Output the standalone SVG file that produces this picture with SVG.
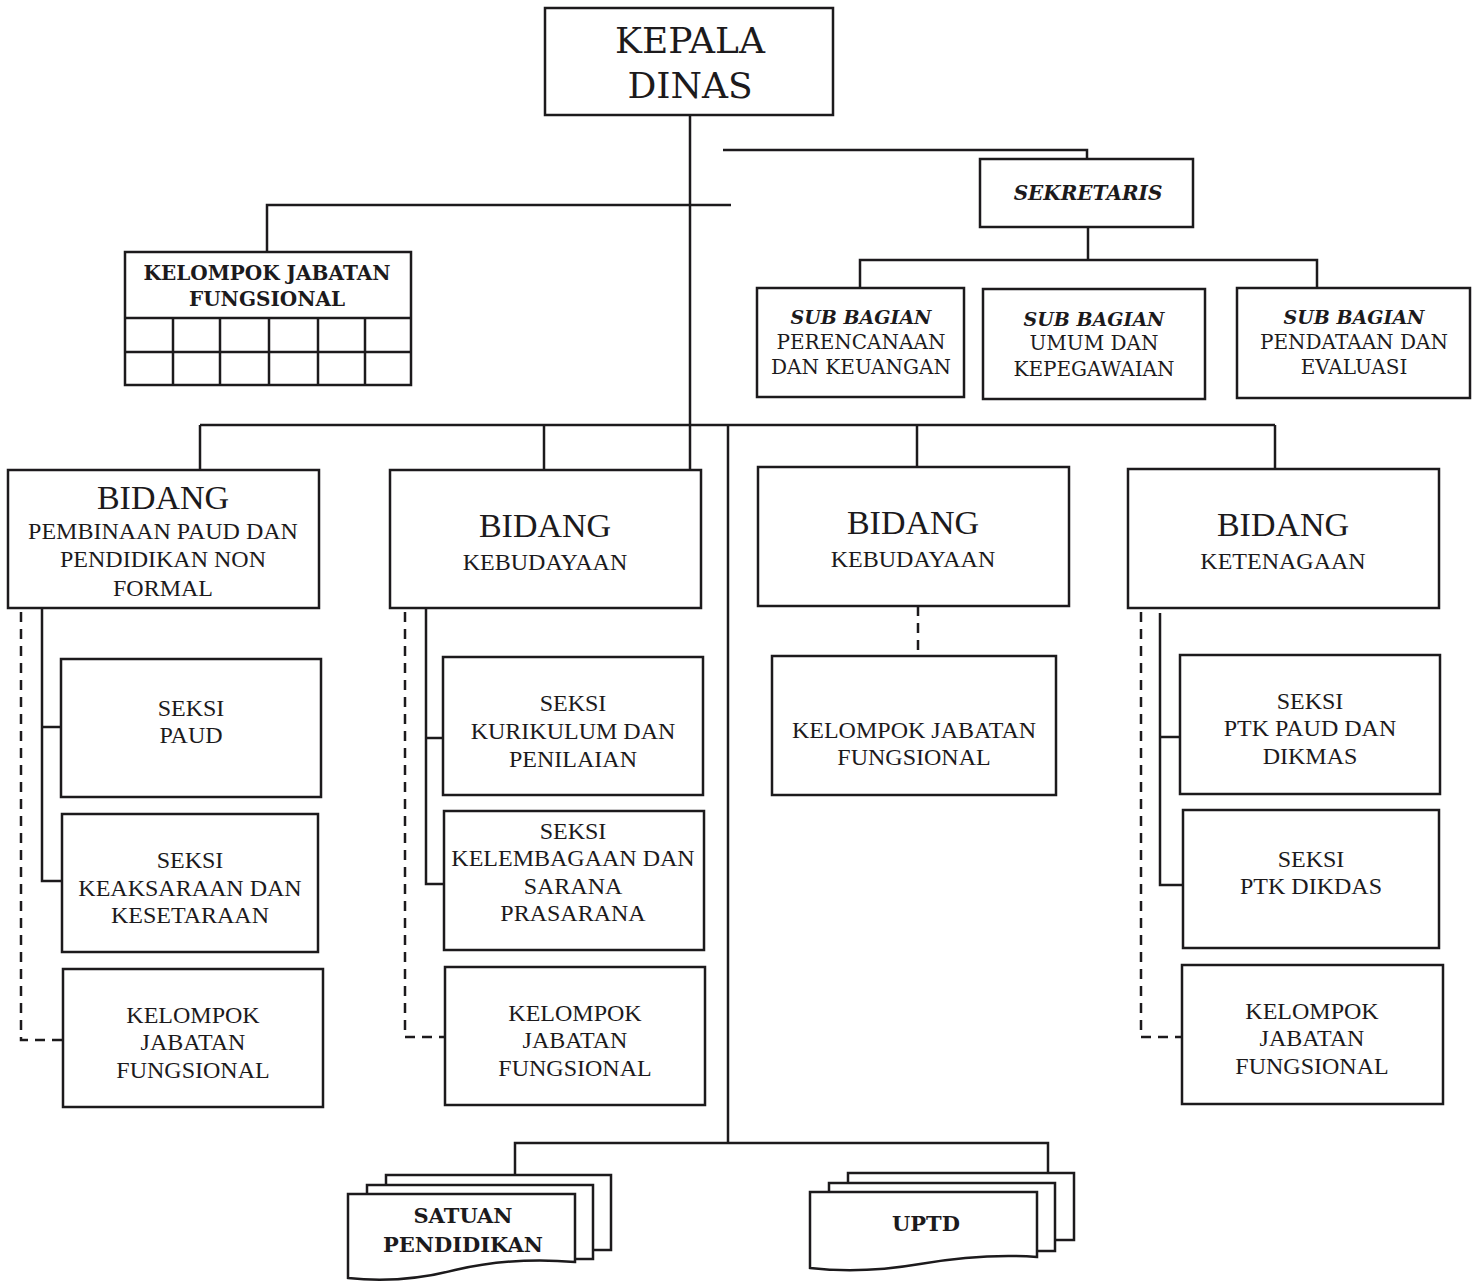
<svg xmlns="http://www.w3.org/2000/svg" width="1478" height="1282" viewBox="0 0 1478 1282">
<style>
.box{fill:#fff;stroke:#1c1a1c;stroke-width:2.5}
.ln{fill:none;stroke:#1c1a1c;stroke-width:2.5}
.dash{fill:none;stroke:#1c1a1c;stroke-width:2.5;stroke-dasharray:10 7}
text{fill:#1c1a1c;text-anchor:middle}
.cs{font-family:"DejaVu Serif","Liberation Serif",serif}
.tm{font-family:"Liberation Serif","Times New Roman",serif}
.big{font-size:36px}
.bi{font-weight:bold;font-style:italic;font-size:19px}
.sk{font-weight:bold;font-style:italic;font-size:20px}
.sb{font-size:20px}
.bd{font-weight:bold;font-size:20px}
.bid{font-size:34px}
.t{font-size:24px}
.bb{font-weight:bold;font-size:21px}
</style>
<rect width="1478" height="1282" fill="#fff"/>
<g id="connectors">
<line class="ln" x1="690" y1="115" x2="690" y2="470"/>
<polyline class="ln" points="723,150 1087,150 1087,160"/>
<polyline class="ln" points="731,205 267,205 267,252"/>
<line class="ln" x1="1088" y1="227" x2="1088" y2="260"/>
<polyline class="ln" points="860,288 860,260 1317,260 1317,288"/>
<line class="ln" x1="200" y1="425" x2="1275" y2="425"/>
<line class="ln" x1="200" y1="425" x2="200" y2="470"/>
<line class="ln" x1="544" y1="425" x2="544" y2="470"/>
<line class="ln" x1="917" y1="425" x2="917" y2="467"/>
<line class="ln" x1="1275" y1="425" x2="1275" y2="469"/>
<line class="ln" x1="728" y1="425" x2="728" y2="1142"/>
<polyline class="ln" points="515,1175 515,1143 1048,1143 1048,1173"/>
<polyline class="ln" points="42,608 42,881 62,881"/>
<line class="ln" x1="42" y1="727" x2="61" y2="727"/>
<polyline class="dash" points="21,612 21,1040 63,1040"/>
<polyline class="ln" points="426,608 426,884 444,884"/>
<line class="ln" x1="426" y1="738" x2="443" y2="738"/>
<polyline class="dash" points="405,612 405,1037 445,1037"/>
<line class="dash" x1="918" y1="606" x2="918" y2="656"/>
<polyline class="ln" points="1160,613 1160,885 1183,885"/>
<line class="ln" x1="1160" y1="737" x2="1180" y2="737"/>
<polyline class="dash" points="1141,612 1141,1037 1182,1037"/>
</g>
<g id="kepala-dinas">
<rect class="box" x="545" y="8" width="288" height="107"/>
<text class="cs big" x="690" y="53">KEPALA</text>
<text class="cs big" x="690" y="98">DINAS</text>
</g>
<g id="sekretaris">
<rect class="box" x="980" y="159" width="213" height="68"/>
<text class="cs sk" x="1088" y="200">SEKRETARIS</text>
</g>
<g id="subbag-perencanaan">
<rect class="box" x="757" y="288" width="207" height="109"/>
<text class="cs bi" x="861" y="324">SUB BAGIAN</text>
<text class="cs sb" x="861" y="349">PERENCANAAN</text>
<text class="cs sb" x="861" y="374">DAN KEUANGAN</text>
</g>
<g id="subbag-umum">
<rect class="box" x="983" y="289" width="222" height="110"/>
<text class="cs bi" x="1094" y="326">SUB BAGIAN</text>
<text class="cs sb" x="1094" y="350">UMUM DAN</text>
<text class="cs sb" x="1094" y="376">KEPEGAWAIAN</text>
</g>
<g id="subbag-pendataan">
<rect class="box" x="1237" y="288" width="233" height="110"/>
<text class="cs bi" x="1354" y="324">SUB BAGIAN</text>
<text class="cs sb" x="1354" y="349">PENDATAAN DAN</text>
<text class="cs sb" x="1354" y="374">EVALUASI</text>
</g>
<g id="kelompok-jabatan-fungsional-top">
<rect class="box" x="125" y="252" width="286" height="133"/>
<line class="ln" x1="125" y1="318" x2="411" y2="318"/>
<line class="ln" x1="125" y1="352" x2="411" y2="352"/>
<line class="ln" x1="173" y1="318" x2="173" y2="385"/>
<line class="ln" x1="220" y1="318" x2="220" y2="385"/>
<line class="ln" x1="269" y1="318" x2="269" y2="385"/>
<line class="ln" x1="318" y1="318" x2="318" y2="385"/>
<line class="ln" x1="365" y1="318" x2="365" y2="385"/>
<text class="cs bd" x="267" y="280">KELOMPOK JABATAN</text>
<text class="cs bd" x="267" y="306">FUNGSIONAL</text>
</g>
<g id="bidang-paud">
<rect class="box" x="8" y="470" width="311" height="138"/>
<text class="tm bid" x="163" y="509">BIDANG</text>
<text class="tm t" x="163" y="539">PEMBINAAN PAUD DAN</text>
<text class="tm t" x="163" y="567">PENDIDIKAN NON</text>
<text class="tm t" x="163" y="596">FORMAL</text>
</g>
<g id="seksi-paud">
<rect class="box" x="61" y="659" width="260" height="138"/>
<text class="tm t" x="191" y="716">SEKSI</text>
<text class="tm t" x="191" y="743">PAUD</text>
</g>
<g id="seksi-keaksaraan">
<rect class="box" x="62" y="814" width="256" height="138"/>
<text class="tm t" x="190" y="868">SEKSI</text>
<text class="tm t" x="190" y="896">KEAKSARAAN DAN</text>
<text class="tm t" x="190" y="923">KESETARAAN</text>
</g>
<g id="kjf-1">
<rect class="box" x="63" y="969" width="260" height="138"/>
<text class="tm t" x="193" y="1023">KELOMPOK</text>
<text class="tm t" x="193" y="1050">JABATAN</text>
<text class="tm t" x="193" y="1078">FUNGSIONAL</text>
</g>
<g id="bidang-kebudayaan-1">
<rect class="box" x="390" y="470" width="311" height="138"/>
<text class="tm bid" x="545" y="537">BIDANG</text>
<text class="tm t" x="545" y="570">KEBUDAYAAN</text>
</g>
<g id="seksi-kurikulum">
<rect class="box" x="443" y="657" width="260" height="138"/>
<text class="tm t" x="573" y="711">SEKSI</text>
<text class="tm t" x="573" y="739">KURIKULUM DAN</text>
<text class="tm t" x="573" y="767">PENILAIAN</text>
</g>
<g id="seksi-kelembagaan">
<rect class="box" x="444" y="811" width="260" height="139"/>
<text class="tm t" x="573" y="839">SEKSI</text>
<text class="tm t" x="573" y="866">KELEMBAGAAN DAN</text>
<text class="tm t" x="573" y="894">SARANA</text>
<text class="tm t" x="573" y="921">PRASARANA</text>
</g>
<g id="kjf-2">
<rect class="box" x="445" y="967" width="260" height="138"/>
<text class="tm t" x="575" y="1021">KELOMPOK</text>
<text class="tm t" x="575" y="1048">JABATAN</text>
<text class="tm t" x="575" y="1076">FUNGSIONAL</text>
</g>
<g id="bidang-kebudayaan-2">
<rect class="box" x="758" y="467" width="311" height="139"/>
<text class="tm bid" x="913" y="534">BIDANG</text>
<text class="tm t" x="913" y="567">KEBUDAYAAN</text>
</g>
<g id="kjf-3">
<rect class="box" x="772" y="656" width="284" height="139"/>
<text class="tm t" x="914" y="738">KELOMPOK JABATAN</text>
<text class="tm t" x="914" y="765">FUNGSIONAL</text>
</g>
<g id="bidang-ketenagaan">
<rect class="box" x="1128" y="469" width="311" height="139"/>
<text class="tm bid" x="1283" y="536">BIDANG</text>
<text class="tm t" x="1283" y="569">KETENAGAAN</text>
</g>
<g id="seksi-ptk-paud">
<rect class="box" x="1180" y="655" width="260" height="139"/>
<text class="tm t" x="1310" y="709">SEKSI</text>
<text class="tm t" x="1310" y="736">PTK PAUD DAN</text>
<text class="tm t" x="1310" y="764">DIKMAS</text>
</g>
<g id="seksi-ptk-dikdas">
<rect class="box" x="1183" y="810" width="256" height="138"/>
<text class="tm t" x="1311" y="867">SEKSI</text>
<text class="tm t" x="1311" y="894">PTK DIKDAS</text>
</g>
<g id="kjf-4">
<rect class="box" x="1182" y="965" width="261" height="139"/>
<text class="tm t" x="1312" y="1019">KELOMPOK</text>
<text class="tm t" x="1312" y="1046">JABATAN</text>
<text class="tm t" x="1312" y="1074">FUNGSIONAL</text>
</g>
<g id="satuan-pendidikan">
<path class="box" d="M386,1175 H611 V1250 H386 Z"/>
<path class="box" d="M367,1185 H593 V1259 H367 Z"/>
<path class="box" d="M348,1194 H575 V1262 C530,1258 490,1262 455,1270 C420,1279 385,1282 348,1278 Z"/>
<text class="cs bb" x="463" y="1223">SATUAN</text>
<text class="cs bb" x="463" y="1252">PENDIDIKAN</text>
</g>
<g id="uptd">
<path class="box" d="M848,1173 H1074 V1240 H848 Z"/>
<path class="box" d="M829,1183 H1055 V1251 H829 Z"/>
<path class="box" d="M810,1192 H1037 V1257 C995,1254 955,1258 920,1264 C885,1270 845,1272 810,1268 Z"/>
<text class="cs bb" x="926" y="1231">UPTD</text>
</g>
</svg>
